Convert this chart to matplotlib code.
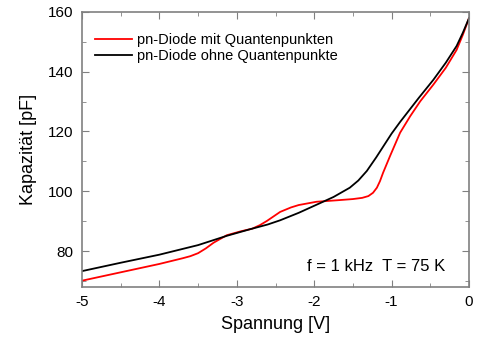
import matplotlib

matplotlib.use("Agg")
import matplotlib.pyplot as plt  # noqa: E402
from matplotlib.ticker import MultipleLocator  # noqa: E402

plt.rcParams["font.family"] = ["Liberation Sans", "DejaVu Sans"]
plt.rcParams["axes.unicode_minus"] = False

# values
u_ohne = [-5.0, -4.5, -4.0, -3.5, -3.13, -2.83, -2.6, -2.44, -2.2, -1.97, -1.75,
          -1.54, -1.43, -1.32, -1.2, -1.11, -1.0, -0.89, -0.65, -0.46, -0.3,
          -0.16, -0.08, 0.0]
c_ohne = [73.3, 76.1, 78.8, 82.0, 85.1, 87.3, 88.9, 90.3, 92.8, 95.5, 98.1,
          101.2, 103.6, 106.8, 111.3, 114.9, 119.3, 123.2, 131.2, 137.3, 143.0,
          148.6, 153.0, 157.9]

u_mit = [-5.0, -4.5, -4.0, -3.7, -3.6, -3.5, -3.4, -3.3, -3.13, -2.95, -2.8,
         -2.7, -2.61, -2.44, -2.3, -2.2, -1.97, -1.7, -1.5, -1.38, -1.3, -1.24,
         -1.19, -1.15, -1.11, -1.02, -0.89, -0.76, -0.63, -0.46, -0.3, -0.16,
         -0.08, 0.0]
c_mit = [70.1, 72.9, 75.7, 77.6, 78.3, 79.3, 80.9, 82.8, 85.3, 86.6, 87.5,
         88.7, 90.1, 93.1, 94.6, 95.4, 96.5, 97.0, 97.4, 97.8, 98.4, 99.5,
         101.2, 103.4, 106.2, 111.8, 119.6, 125.1, 130.1, 135.7, 141.3, 147.3,
         152.3, 157.9]

label_mit = "pn-Diode mit Quantenpunkten"
label_ohne = "pn-Diode ohne Quantenpunkte"
info_text = "f = 1 kHz  T = 75 K"

fig = plt.figure(figsize=(5, 3.4), dpi=100)
ax = fig.add_axes([0.164, 0.156, 0.774, 0.809])

ax.plot(u_mit, c_mit, color="#ff0000", lw=1.3, label=label_mit)
ax.plot(u_ohne, c_ohne, color="black", lw=1.3, label=label_ohne)

ax.set_xlim(-5, 0)
ax.set_ylim(68, 160)
ax.xaxis.set_major_locator(MultipleLocator(1))
ax.xaxis.set_minor_locator(MultipleLocator(0.5))
ax.yaxis.set_major_locator(MultipleLocator(20))
ax.yaxis.set_minor_locator(MultipleLocator(10))
ax.tick_params(which="both", direction="in", top=True, right=True,
               color="#808080", labelsize=11, pad=6)
ax.tick_params(which="major", length=5)
ax.tick_params(which="minor", length=3)
for sp in ax.spines.values():
    sp.set_color("#808080")
    sp.set_linewidth(1.2)

ax.set_xlabel("Spannung [V]", fontsize=13, labelpad=5)
ax.set_ylabel("Kapazität [pF]", fontsize=13, labelpad=8)

ax.legend(loc="upper left", frameon=False, fontsize=10.5, handlelength=2.5,
          handletextpad=0.4, labelspacing=0.1, borderaxespad=0.5,
          bbox_to_anchor=(0.0, 0.97))
ax.text(0.938, 0.047, info_text, transform=ax.transAxes, ha="right",
        va="bottom", fontsize=12)

fig.savefig("out.png")
